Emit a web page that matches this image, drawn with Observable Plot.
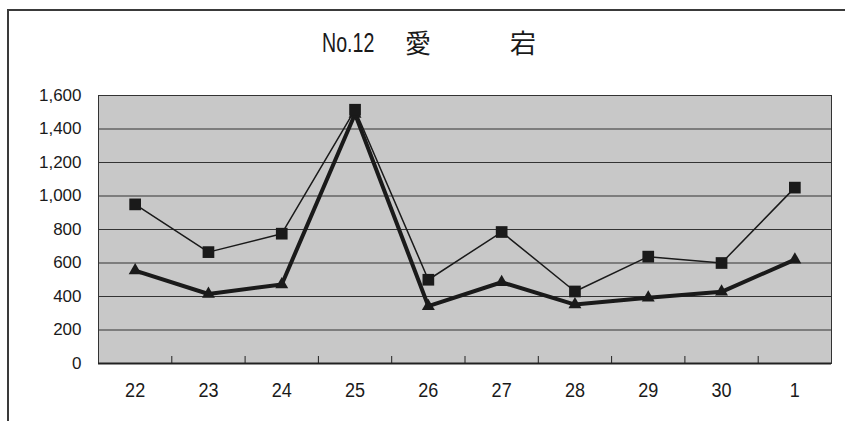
<!DOCTYPE html>
<html><head><meta charset="utf-8">
<script src="https://cdn.jsdelivr.net/npm/d3@7"></script>
<script src="https://cdn.jsdelivr.net/npm/@observablehq/plot@0.6"></script>
<style>
body{margin:0;background:#fff;}
#wrap{position:relative;width:845px;height:421px;overflow:hidden;}
#border{position:absolute;left:7px;top:9px;width:2000px;height:2000px;border-left:2px solid #3a3a3a;border-top:2px solid #3a3a3a;}
#title span{position:absolute;line-height:1;white-space:nowrap;color:#1a1a1a;}
#chart{position:absolute;left:0;top:0;}
</style></head><body>
<div id="wrap">
<div id="border"></div>
<div id="title">
 <span style="left:322px;top:29px;font-size:28px;font-family:'Liberation Sans',Arial,sans-serif;transform:scaleX(0.7);transform-origin:0 0;">No.12</span>
 <span style="left:405px;top:29px;font-size:26px;font-family:'Noto Sans CJK JP',sans-serif;">愛</span>
 <span style="left:510px;top:29px;font-size:26px;font-family:'Noto Sans CJK JP',sans-serif;">宕</span>
</div>
<div id="chart"></div>
</div>
<script>
const categories = ["22","23","24","25","26","27","28","29","30","1"];
const squareSeries = [950, 665, 775, 1515, 500, 785, 430, 638, 600, 1050];
const triangleSeries = [555, 415, 472, 1490, 342, 485, 352, 392, 428, 620];
const yTicks = [0, 200, 400, 600, 800, 1000, 1200, 1400, 1600];

const idx = categories.map((_, i) => i);
const sq = idx.map(i => ({i, v: squareSeries[i]}));
const tr = idx.map(i => ({i, v: triangleSeries[i]}));
const boundaries = idx.slice(1).map(i => i - 0.5);
const font = "'Liberation Sans', Arial, sans-serif";

const chart = Plot.plot({
  width: 845, height: 421,
  marginTop: 95, marginBottom: 58, marginLeft: 98, marginRight: 14,
  style: {background: "transparent", fontFamily: font, color: "#1a1a1a", overflow: "visible"},
  x: {domain: [-0.5, categories.length - 0.5], label: null},
  y: {domain: [0, 1600], label: null},
  marks: [
    Plot.frame({fill: "#c8c8c8"}),
    Plot.ruleY(yTicks.filter(d => d > 0), {stroke: "#333", strokeWidth: 1}),
    Plot.frame({stroke: "#333", strokeWidth: 1}),
    Plot.ruleY([0], {stroke: "#222", strokeWidth: 2}),
    Plot.tickX(boundaries, {x: d => d, stroke: "#222", strokeWidth: 1, insetTop: 261}),
    Plot.axisY({ticks: yTicks, tickSize: 0, tickPadding: 17, tickFormat: d3.format(","), fontSize: 17, label: null}),
    Plot.axisX({ticks: idx, tickSize: 0, tickPadding: 19, tickFormat: i => categories[i], fontSize: 21, label: null}),
    Plot.lineY(tr, {x: "i", y: "v", stroke: "#1a1a1a", strokeWidth: 4}),
    Plot.lineY(sq, {x: "i", y: "v", stroke: "#1a1a1a", strokeWidth: 1.5}),
    Plot.dot(tr, {x: "i", y: "v", symbol: "triangle", r: 4.8, fill: "#1a1a1a"}),
    Plot.dot(sq, {x: "i", y: "v", symbol: "square", r: 6.6, fill: "#1a1a1a"})
  ]
});
document.getElementById("chart").appendChild(chart);

// slightly condense the x tick labels like the original
chart.querySelectorAll('g[aria-label="x-axis tick label"] text').forEach(t => {
  const b = t.getBBox();
  const cx = b.x + b.width / 2;
  const prev = t.getAttribute("transform") || "";
  t.setAttribute("transform", `${prev} translate(${cx},0) scale(0.86,1) translate(${-cx},0)`);
});
</script>
</body></html>
